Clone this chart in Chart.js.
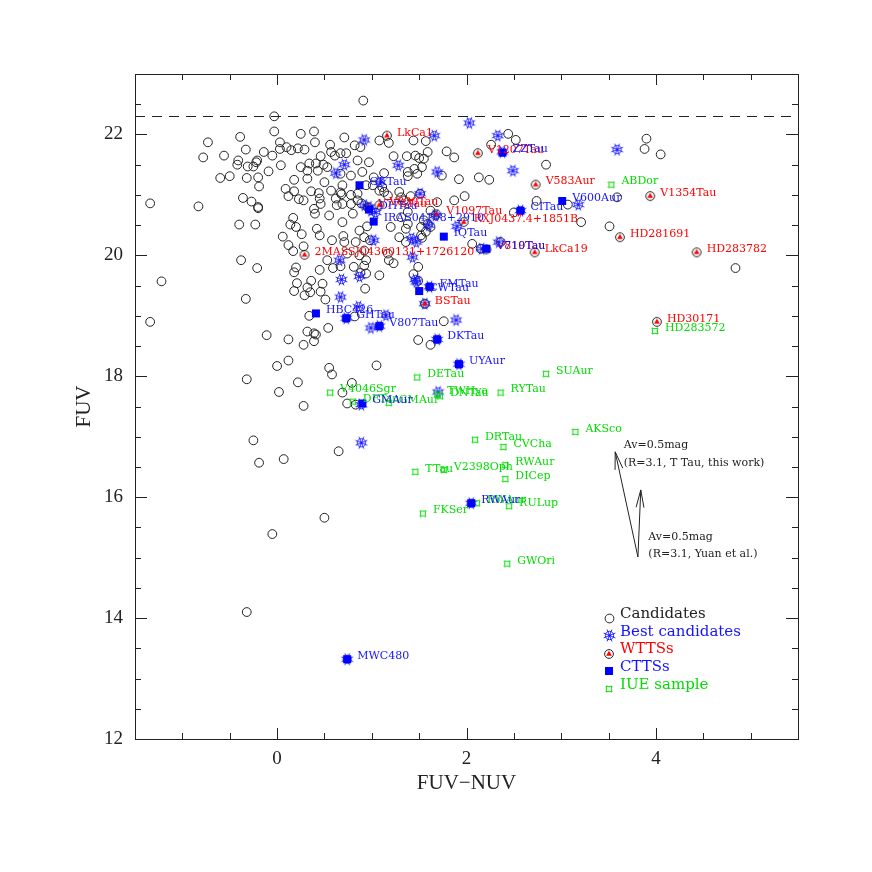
<!DOCTYPE html>
<html>
<head>
<meta charset="utf-8">
<title>FUV vs FUV-NUV</title>
<script src="https://cdn.jsdelivr.net/npm/chart.js@4.4.1/dist/chart.umd.min.js"></script>
<style>
  html, body { margin: 0; padding: 0; background: #fff; }
  canvas { display: block; }
</style>
</head>
<body>
<canvas id="cmd" width="872" height="872"></canvas>
<script>
(() => {
  "use strict";

  // ---- data: [FUV-NUV, FUV] ----
  const candidates = [
    [0.91,22.56],[-0.03,22.30],[-0.03,22.05],[-0.39,21.96],[-0.73,21.87],[-0.78,21.62],[-0.33,21.75],
    [-0.56,21.65],[-0.41,21.57],[-0.42,21.50],[-0.31,21.47],[-0.21,21.57],[-0.22,21.54],[-0.25,21.47],
    [-0.14,21.71],[-0.09,21.39],[-0.05,21.65],[0.03,21.87],[0.03,21.76],[0.10,21.79],[0.15,21.74],
    [0.22,21.77],[0.25,22.01],[0.39,22.05],[0.40,21.87],[0.04,21.49],[-0.60,21.28],[-0.50,21.31],
    [-0.32,21.28],[-0.20,21.29],[-0.19,21.14],[0.18,21.25],[0.32,21.27],[0.34,21.52],[0.41,21.52],
    [0.46,21.64],[0.49,21.50],[0.32,21.40],[0.43,21.40],[0.56,21.83],[0.57,21.71],[0.61,21.65],
    [0.67,21.69],[0.71,21.95],[0.85,21.57],[0.82,21.82],[0.88,21.79],[1.08,21.90],[-1.34,20.86],
    [-0.83,20.81],[-0.36,20.95],[-0.27,20.89],[-0.20,20.80],[-0.20,20.78],[0.09,21.10],[0.12,20.98],
    [0.18,21.06],[0.23,20.93],[0.28,20.91],[0.36,21.06],[0.44,21.03],[0.45,20.94],[0.46,20.85],
    [0.39,20.77],[0.40,20.69],[0.55,20.66],[0.62,20.94],[0.63,20.83],[0.67,21.04],[0.68,21.01],
    [0.78,21.00],[0.85,21.02],[0.80,20.69],[-0.40,20.51],[-0.23,20.51],[0.17,20.62],[0.14,20.51],
    [0.20,20.47],[0.42,20.44],[0.26,20.35],[0.06,20.31],[0.12,20.17],[0.17,20.07],[0.28,20.15],
    [0.58,20.25],[0.70,20.32],[0.83,20.22],[0.87,20.41],[0.92,20.30],[-0.38,19.92],[-0.21,19.79],
    [-1.22,19.57],[0.20,19.80],[0.18,19.72],[0.45,19.76],[0.53,19.92],[0.59,19.79],[0.67,19.82],
    [0.88,19.71],[0.94,19.92],[0.21,19.54],[0.36,19.58],[0.32,19.47],[0.48,19.53],[0.46,19.40],
    [0.18,19.41],[0.29,19.34],[-0.33,19.28],[0.93,19.45],[1.18,21.86],[0.29,21.75],[0.73,21.69],
    [0.97,21.54],[1.23,21.64],[1.37,21.64],[1.46,21.65],[1.50,21.61],[0.25,21.46],[0.53,21.46],
    [0.67,21.35],[0.78,21.32],[0.90,21.38],[1.02,21.29],[1.13,21.36],[1.38,21.38],[1.48,21.35],
    [1.45,21.43],[0.50,21.21],[0.69,21.16],[0.94,21.16],[1.01,21.16],[1.11,21.13],[1.08,21.07],
    [1.13,21.05],[1.17,20.99],[1.29,21.05],[1.31,20.96],[1.41,20.98],[1.51,21.02],[0.69,20.85],
    [0.57,21.07],[0.78,20.85],[0.85,20.91],[0.89,20.86],[0.69,20.55],[0.95,20.48],[1.20,20.47],
    [0.45,20.33],[0.71,20.22],[1.36,20.44],[1.59,21.71],[1.79,21.72],[1.87,21.62],[1.53,21.46],
    [1.74,21.32],[1.92,21.26],[2.13,21.29],[2.24,21.25],[2.26,21.83],[2.44,22.01],[2.84,21.50],
    [1.34,20.91],[1.69,20.88],[1.87,20.91],[1.98,20.98],[1.38,20.72],[1.31,20.63],[1.55,20.58],
    [1.59,20.52],[1.62,20.47],[1.29,20.30],[1.36,20.22],[1.52,20.33],[1.53,20.29],[2.36,20.22],
    [2.06,20.19],[2.15,20.11],[0.92,20.08],[0.98,20.25],[0.87,20.00],[0.81,19.81],[0.92,19.83],
    [0.74,20.03],[1.17,20.03],[0.94,19.70],[1.08,19.67],[1.18,19.92],[1.23,19.87],[1.44,21.90],
    [1.57,21.89],[2.52,21.91],[1.55,21.60],[1.38,21.31],[1.38,20.52],[1.52,20.47],[1.57,20.39],
    [1.62,20.74],[2.74,20.90],[3.07,20.84],[2.50,20.71],[3.21,20.55],[3.51,20.48],[3.59,20.96],
    [3.90,21.93],[3.88,21.76],[4.05,21.67],[4.84,19.79],[-1.34,18.90],[0.35,19.39],[0.51,19.27],
    [0.34,19.00],[0.82,18.99],[0.54,18.80],[0.32,18.74],[0.39,18.71],[0.41,18.69],[0.39,18.58],
    [0.28,18.52],[-0.11,18.68],[0.12,18.61],[0.12,18.26],[0.00,18.17],[0.55,18.14],[0.58,18.03],
    [1.05,18.18],[-0.32,17.95],[0.22,17.90],[0.79,17.89],[0.02,17.74],[0.69,17.73],[0.28,17.51],
    [0.74,17.55],[0.83,17.53],[1.49,18.60],[1.62,18.52],[-0.25,16.94],[-0.19,16.57],[0.07,16.63],
    [0.65,16.76],[1.49,19.81],[1.44,19.69],[1.49,19.58],[1.76,18.91],[0.50,15.66],[-0.05,15.39],
    [-0.32,14.10]
  ];

  const bestCandidates = [
    [0.92,21.91],[0.71,21.50],[0.62,21.36],[0.97,20.80],[1.02,20.25],[0.66,19.92],[0.68,19.60],
    [0.87,19.65],[0.67,19.31],[2.03,22.19],[1.66,21.98],[2.33,21.98],[2.49,21.40],[1.69,21.38],
    [1.28,21.49],[1.51,21.02],[1.09,21.21],[0.92,20.83],[0.99,20.74],[1.04,20.71],[1.60,20.50],
    [1.67,20.66],[1.42,20.28],[1.47,20.22],[1.43,19.97],[2.16,20.11],[2.57,20.74],[2.38,21.71],
    [3.59,21.75],[3.18,20.84],[1.90,20.48],[2.34,20.22],[0.86,19.15],[0.73,18.96],[1.15,19.01],
    [0.99,18.80],[1.08,18.83],[0.89,16.90],[0.89,17.53],[1.47,19.56],[1.56,19.20],[1.46,19.60],
    [1.61,19.48],[1.89,18.93],[1.69,18.61],[1.92,18.20],[1.70,17.74],[2.05,15.90],[0.74,13.32]
  ];

  const wttsNames = [
    "LkCa1", "V1207Tau", "V583Aur", "V1354Tau", "HD281691", "HD283782", "HD30171", "LkCa19",
    "RXJ0437.4+1851B", "V1097Tau", "V819Tau", "2MASSJ04360131+1726120", "BSTau", "V830Tau", "V773Tau"
  ];
  const wtts = [
    [1.16,21.98],[2.12,21.69],[2.73,21.17],[3.94,20.98],[3.62,20.30],[4.43,20.05],[4.01,18.90],[2.72,20.05],
    [1.97,20.55],[1.68,20.68],[2.21,20.10],[0.29,20.01],[1.56,19.20],[1.08,20.83],[0.96,20.79]
  ];

  const cttsNames = [
    "GKTau", "DHTau", "IRAS04108+2910", "IQTau", "V710Tau", "CITau", "ZZTau", "V600Aur", "HBC426",
    "GHTau", "V807Tau", "CWTau", "FMTau", "DKTau", "UYAur", "GMAur", "RWAur", "MWC480"
  ];
  const ctts = [
    [0.87,21.16],[0.97,20.76],[1.02,20.56],[1.76,20.31],[2.21,20.11],[2.57,20.74],[2.38,21.70],[3.01,20.90],[0.41,19.04],
    [0.73,18.96],[1.08,18.83],[1.50,19.41],[1.61,19.48],[1.69,18.61],[1.92,18.20],[0.90,17.55],[2.05,15.90],[0.74,13.32]
  ];

  const iueNames = [
    "ABDor", "HD283572", "V4046Sgr", "DFTau", "GMAur", "DETau", "TWHya", "DNTau", "RYTau", "SUAur", "AKSco",
    "DRTau", "CVCha", "TTau", "V2398Oph", "RWAur", "DICep", "FKSer", "RWAur", "RULup", "GWOri"
  ];
  const iue = [
    [3.53,21.17],[3.99,18.75],[0.56,17.73],[0.80,17.58],[1.18,17.56],[1.48,17.98],[1.69,17.70],[1.72,17.67],[2.36,17.73],[2.84,18.04],[3.15,17.08],
    [2.09,16.95],[2.39,16.83],[1.46,16.42],[1.76,16.45],[2.41,16.53],[2.41,16.30],[1.54,15.73],[2.11,15.90],[2.45,15.85],[2.43,14.90]
  ];

  const xTickValues = [0, 2, 4];
  const yTickValues = [12, 14, 16, 18, 20, 22];
  const dashedLevel = 22.3;

  // reddening vectors: common foot, two tips
  const arrowFoot = [3.81, 15.01];
  const arrowTips = [[3.57, 16.75], [3.84, 16.12]];
  const notes = [
    ["Av=0.5mag", 3.66, 16.86],
    ["(R=3.1, T Tau, this work)", 3.66, 16.56],
    ["Av=0.5mag", 3.92, 15.34],
    ["(R=3.1, Yuan et al.)", 3.92, 15.06],
  ];

  const legendLabels = ["Candidates", "Best candidates", "WTTSs", "CTTSs", "IUE sample"];

  const BLUE = "#1414ff";
  const RED = "#ff0000";
  const GREEN = "#00dd00";
  const INK = "#222";
  const SERIF = "'DejaVu Serif', serif";
  const TIMES = "'Liberation Serif', serif";

  // ---- marker sprites ----
  function sprite(size, draw) {
    const c = document.createElement("canvas");
    c.width = c.height = size;
    const g = c.getContext("2d");
    draw(g, size / 2);
    return c;
  }

  const circleMark = sprite(11, (g, m) => {
    g.strokeStyle = INK; g.lineWidth = 1;
    g.beginPath(); g.arc(m, m, 4.4, 0, Math.PI * 2); g.stroke();
  });

  // blue wheel: 8 spokes, a rim, a hub
  const starMark = sprite(15, (g, m) => {
    g.strokeStyle = BLUE; g.lineWidth = 0.9;
    g.beginPath();
    for (let k = 0; k < 8; k++) {
      const a = k * Math.PI / 4 + Math.PI / 8;
      g.moveTo(m, m);
      g.lineTo(m + 6.4 * Math.cos(a), m + 6.4 * Math.sin(a));
    }
    g.stroke();
    g.beginPath(); g.arc(m, m, 4.2, 0, Math.PI * 2); g.stroke();
    g.fillStyle = BLUE;
    g.beginPath(); g.arc(m, m, 1.3, 0, Math.PI * 2); g.fill();
  });

  const wttsMark = sprite(12, (g, m) => {
    g.strokeStyle = INK; g.lineWidth = 1;
    g.beginPath(); g.arc(m, m, 4.4, 0, Math.PI * 2); g.stroke();
    g.fillStyle = RED;
    g.beginPath(); g.moveTo(m, m - 3.2); g.lineTo(m - 2.9, m + 1.8); g.lineTo(m + 2.9, m + 1.8); g.closePath(); g.fill();
  });

  const cttsMark = sprite(10, (g) => {
    g.fillStyle = "#0000ff";
    g.fillRect(1, 1, 8, 8);
  });

  const iueMark = sprite(8, (g) => {
    g.strokeStyle = GREEN; g.lineWidth = 1;
    g.beginPath();
    g.moveTo(1, 1);
    g.quadraticCurveTo(4, 2.6, 7, 1);
    g.quadraticCurveTo(5.4, 4, 7, 7);
    g.quadraticCurveTo(4, 5.4, 1, 7);
    g.quadraticCurveTo(2.6, 4, 1, 1);
    g.stroke();
  });

  const legendMarks = [circleMark, starMark, wttsMark, cttsMark, iueMark];
  const legendColors = [INK, BLUE, RED, BLUE, GREEN];

  function toPoints(pairs) {
    return pairs.map(([x, y]) => ({ x, y }));
  }

  // ---- plugins ----
  const framePlugin = {
    id: "frame",
    beforeDatasetsDraw(chart) {
      const { ctx, chartArea: a, scales: { x, y } } = chart;
      ctx.save();
      ctx.strokeStyle = INK;
      ctx.lineWidth = 1;
      ctx.strokeRect(a.left + 0.5, a.top + 0.5, a.right - a.left, a.bottom - a.top);

      ctx.beginPath();
      for (let v = -1.5; v <= 5.5 + 1e-9; v += 0.5) {
        const len = xTickValues.includes(v) ? 11 : 6;
        const px = Math.round(x.getPixelForValue(v)) + 0.5;
        ctx.moveTo(px, a.bottom); ctx.lineTo(px, a.bottom - len);
        ctx.moveTo(px, a.top); ctx.lineTo(px, a.top + len);
      }
      for (let v = 12; v <= 23 + 1e-9; v += 0.5) {
        const len = yTickValues.includes(v) ? 12 : 6;
        const py = Math.round(y.getPixelForValue(v)) + 0.5;
        ctx.moveTo(a.left, py); ctx.lineTo(a.left + len, py);
        ctx.moveTo(a.right, py); ctx.lineTo(a.right - len, py);
      }
      ctx.stroke();

      const dy = Math.round(y.getPixelForValue(dashedLevel)) + 0.5;
      ctx.setLineDash([10, 7]);
      ctx.beginPath();
      ctx.moveTo(a.left, dy); ctx.lineTo(a.right, dy);
      ctx.stroke();
      ctx.restore();
    },
  };

  const notesPlugin = {
    id: "notes",
    afterDatasetsDraw(chart) {
      const { ctx, chartArea: a, scales: { x, y } } = chart;
      ctx.save();

      // point labels
      ctx.font = "11px " + SERIF;
      ctx.textAlign = "left";
      ctx.textBaseline = "middle";
      chart.data.datasets.forEach((ds, i) => {
        if (!ds.names) return;
        const meta = chart.getDatasetMeta(i);
        ctx.fillStyle = ds.nameColor;
        meta.data.forEach((pt, j) => ctx.fillText(ds.names[j], pt.x + 10, pt.y - 3));
      });

      // reddening arrows
      ctx.strokeStyle = INK;
      ctx.lineWidth = 1;
      const fx = x.getPixelForValue(arrowFoot[0]);
      const fy = y.getPixelForValue(arrowFoot[1]);
      arrowTips.forEach(([tx, ty]) => {
        const px = x.getPixelForValue(tx);
        const py = y.getPixelForValue(ty);
        const ang = Math.atan2(fy - py, fx - px);
        ctx.beginPath();
        ctx.moveTo(fx, fy); ctx.lineTo(px, py);
        [-0.22, 0.22].forEach((d) => {
          ctx.moveTo(px, py);
          ctx.lineTo(px + 18 * Math.cos(ang + d), py + 18 * Math.sin(ang + d));
        });
        ctx.stroke();
      });
      ctx.fillStyle = INK;
      ctx.font = "11px " + SERIF;
      notes.forEach(([t, tx, ty]) => ctx.fillText(t, x.getPixelForValue(tx), y.getPixelForValue(ty)));

      // legend
      ctx.font = "15px " + SERIF;
      legendLabels.forEach((label, k) => {
        const sx = a.left + 474;
        const sy = a.top + 544 + k * 17.8;
        const m = legendMarks[k];
        ctx.drawImage(m, Math.round(sx - m.width / 2), Math.round(sy - m.height / 2));
        ctx.fillStyle = legendColors[k];
        ctx.fillText(label, sx + 11, sy - 4);
      });
      ctx.restore();
    },
  };

  function initChart() {
    if (typeof Chart === "undefined") return;
    const canvas = document.getElementById("cmd");

    new Chart(canvas, {
      type: "scatter",
      data: {
        datasets: [
          {
            label: "Candidates",
            data: toPoints(candidates),
            pointStyle: "circle",
            pointRadius: 4.4,
            pointBorderWidth: 1,
            pointBorderColor: INK,
            pointBackgroundColor: "rgba(0,0,0,0)",
            order: 5,
          },
          {
            label: "Best candidates",
            data: toPoints(bestCandidates),
            pointStyle: starMark,
            pointRadius: 6,
            order: 4,
          },
          {
            label: "IUE sample",
            data: toPoints(iue),
            pointStyle: iueMark,
            pointRadius: 4,
            names: iueNames,
            nameColor: GREEN,
            order: 3,
          },
          {
            label: "WTTSs",
            data: toPoints(wtts),
            pointStyle: wttsMark,
            pointRadius: 5,
            names: wttsNames,
            nameColor: RED,
            order: 2,
          },
          {
            label: "CTTSs",
            data: toPoints(ctts),
            pointStyle: cttsMark,
            pointRadius: 5,
            names: cttsNames,
            nameColor: BLUE,
            order: 1,
          },
        ],
      },
      options: {
        responsive: false,
        animation: false,
        events: [],
        layout: { padding: { top: 74, right: 74, left: 0, bottom: 0 } },
        scales: {
          x: {
            type: "linear",
            min: -1.5,
            max: 5.5,
            grid: { display: false, drawTicks: false },
            border: { display: false },
            ticks: { color: INK, padding: 9, font: { family: TIMES, size: 19 } },
            afterBuildTicks: (s) => { s.ticks = xTickValues.map((v) => ({ value: v })); },
            afterFit: (s) => { s.height = 133; },
            title: {
              display: true,
              text: "FUV\u2212NUV",
              color: INK,
              font: { family: TIMES, size: 21 },
              padding: { top: 0, bottom: 76 },
            },
          },
          y: {
            type: "linear",
            min: 12,
            max: 23,
            grid: { display: false, drawTicks: false },
            border: { display: false },
            ticks: { color: INK, padding: 12, font: { family: TIMES, size: 19 } },
            afterBuildTicks: (s) => { s.ticks = yTickValues.map((v) => ({ value: v })); },
            afterFit: (s) => { s.width = 135; },
            title: {
              display: true,
              text: "FUV",
              color: INK,
              font: { family: TIMES, size: 21 },
              padding: { top: 72, bottom: 0 },
            },
          },
        },
        plugins: {
          legend: { display: false },
          tooltip: { enabled: false },
        },
      },
      plugins: [framePlugin, notesPlugin],
    });
  }

  initChart();
})();
</script>
</body>
</html>
